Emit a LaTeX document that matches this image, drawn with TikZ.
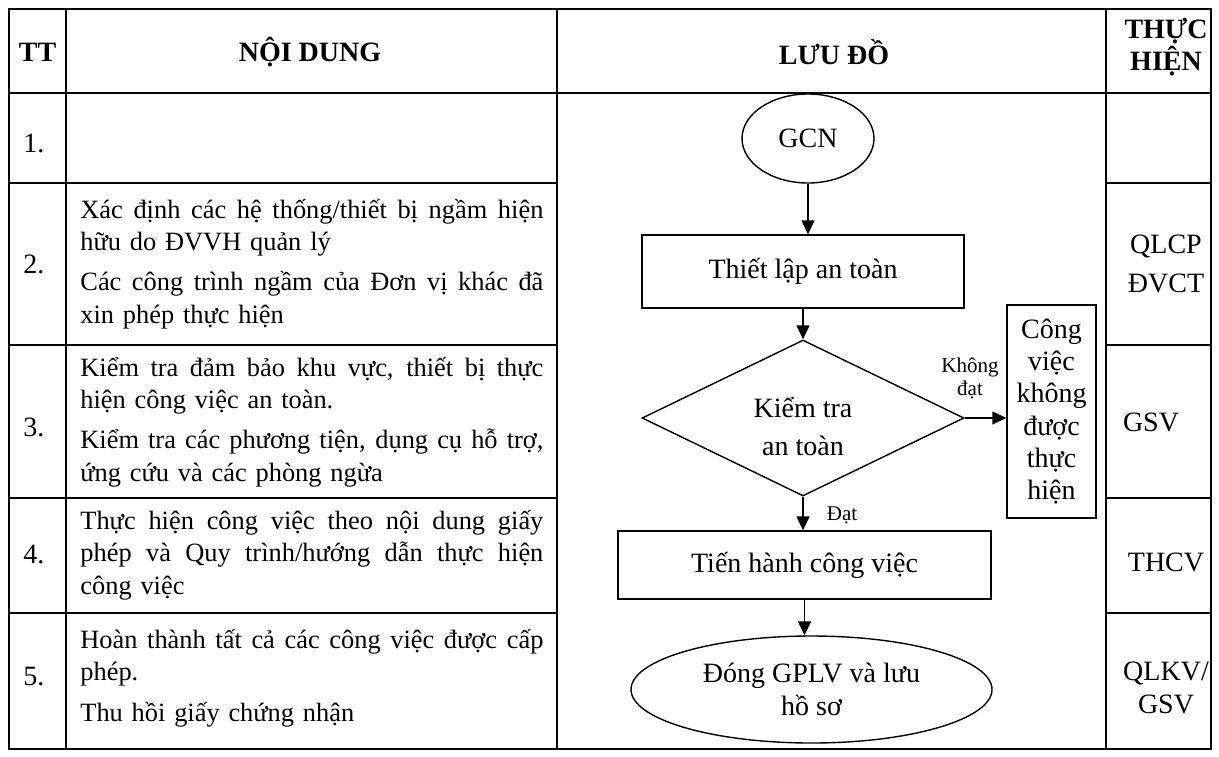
\documentclass[tikz,border=0pt]{standalone}
\usepackage{fontspec}
\setmainfont{Liberation Serif}
\usetikzlibrary{arrows.meta,shapes.geometric}
\newcommand\jline[1]{\makebox[231.5pt][s]{\spaceskip=0.25em plus 2em\relax #1}}
\begin{document}
\begin{tikzpicture}[x=0.5pt,y=-0.5pt,
  grid/.style={line width=1pt},
  body/.style={font=\fontsize{14}{16.15}\selectfont, inner sep=0pt},
  head/.style={font=\fontsize{14}{16.15}\selectfont\bfseries, inner sep=0pt, align=center},
  cell/.style={font=\fontsize{13.2}{16.15}\selectfont, inner sep=0pt, anchor=west, text width=231.5pt, align=left},
  fshape/.style={draw, line width=0.7pt, inner sep=0pt, font=\fontsize{14}{16.15}\selectfont, align=center},
  procbox/.style={fshape, rectangle},
  termell/.style={fshape, ellipse},
  decision/.style={fshape, diamond},
  small/.style={font=\fontsize{10.5}{11.5}\selectfont, inner sep=0pt, align=center},
  flow/.style={line width=0.7pt, -{Triangle[length=7pt,width=6.5pt]}},
]
\useasboundingbox (0,0) rectangle (1219,756);
% table grid
\draw[grid] (9,9) rectangle (1211,749);
\draw[grid] (66,9) -- (66,749);
\draw[grid] (557,9) -- (557,749);
\draw[grid] (1106,9) -- (1106,749);
\draw[grid] (9,93) -- (1211,93);
\foreach \yy in {183,345,498,613}{
  \draw[grid] (9,\yy) -- (557,\yy);
  \draw[grid] (1106,\yy) -- (1211,\yy);
}
% header
\node[head] (hTT) at (37.5,52) {TT};
\node[head] (hND) at (310,52) {NỘI DUNG};
\node[head] (hLD) at (834,52) {LƯU ĐỒ};
\node[head] (hTH) at (1166,47) {THỰC\\HIỆN};
% numbers
\node[body] (n1) at (34,143) {1.};
\node[body] (n2) at (34,264) {2.};
\node[body] (n3) at (34,427) {3.};
\node[body] (n4) at (34,554) {4.};
\node[body] (n5) at (34,677) {5.};
% contents
\node[cell] (c2) at (80,264) {\jline{Xác định các hệ thống/thiết bị ngầm hiện}\\ hữu do ĐVVH quản lý\\[4pt] \jline{Các công trình ngầm của Đơn vị khác đã}\\ xin phép thực hiện};
\node[cell] (c3) at (80,422) {\jline{Kiểm tra đảm bảo khu vực, thiết bị thực}\\ hiện công việc an toàn.\\[4pt] \jline{Kiểm tra các phương tiện, dụng cụ hỗ trợ,}\\ ứng cứu và các phòng ngừa};
\node[cell] (c4) at (80,555) {\jline{Thực hiện công việc theo nội dung giấy}\\ \jline{phép và Quy trình/hướng dẫn thực hiện}\\ công việc};
\node[cell] (c5) at (80,678) {\jline{Hoàn thành tất cả các công việc được cấp}\\ phép.\\[4pt] Thu hồi giấy chứng nhận};
% executors
\node[body, align=center] (e2) at (1166,264) {QLCP\\[3pt]ĐVCT};
\node[body] (e3) at (1151,422) {GSV};
\node[body] (e4) at (1166,562) {THCV};
\node[body, align=center] (e5) at (1166,688) {QLKV/\\GSV};
% flowchart
\node[termell, minimum width=66pt, minimum height=44.5pt] (gcn) at (808,138.5) {GCN};
\node[procbox, minimum width=161pt, minimum height=36.5pt] (setup) at (803,271.5) {Thiết lập an toàn};
\node[decision, minimum width=161pt, minimum height=78pt] (chk) at (803,418) {};
\node[body, align=center, font=\fontsize{14}{19}\selectfont] (chktext) at (803,426) {Kiểm tra\\an toàn};
\node[procbox, minimum width=44.5pt, minimum height=106.5pt] (fail) at (1051.5,411.5) {Công\\việc\\không\\được\\thực\\hiện};
\node[procbox, minimum width=186.5pt, minimum height=34pt] (work) at (804.5,565) {Tiến hành công việc};
\node[termell, minimum width=180.5pt, minimum height=53.5pt] (close) at (811.5,689.5) {Đóng GPLV và lưu\\hồ sơ};
\node[small] (lblno) at (970,378.5) {Không\\đạt};
\node[small] (lblok) at (842,515) {Đạt};
\draw[flow] (gcn.south) -- (gcn.south |- setup.north);
\draw[flow] (setup.south) -- (chk.north);
\draw[flow] (chk.east) -- (chk.east -| fail.west);
\draw[flow] (chk.south) -- (chk.south |- work.north);
\draw[flow] (work.south) -- (work.south |- close.north);
\end{tikzpicture}
\end{document}
